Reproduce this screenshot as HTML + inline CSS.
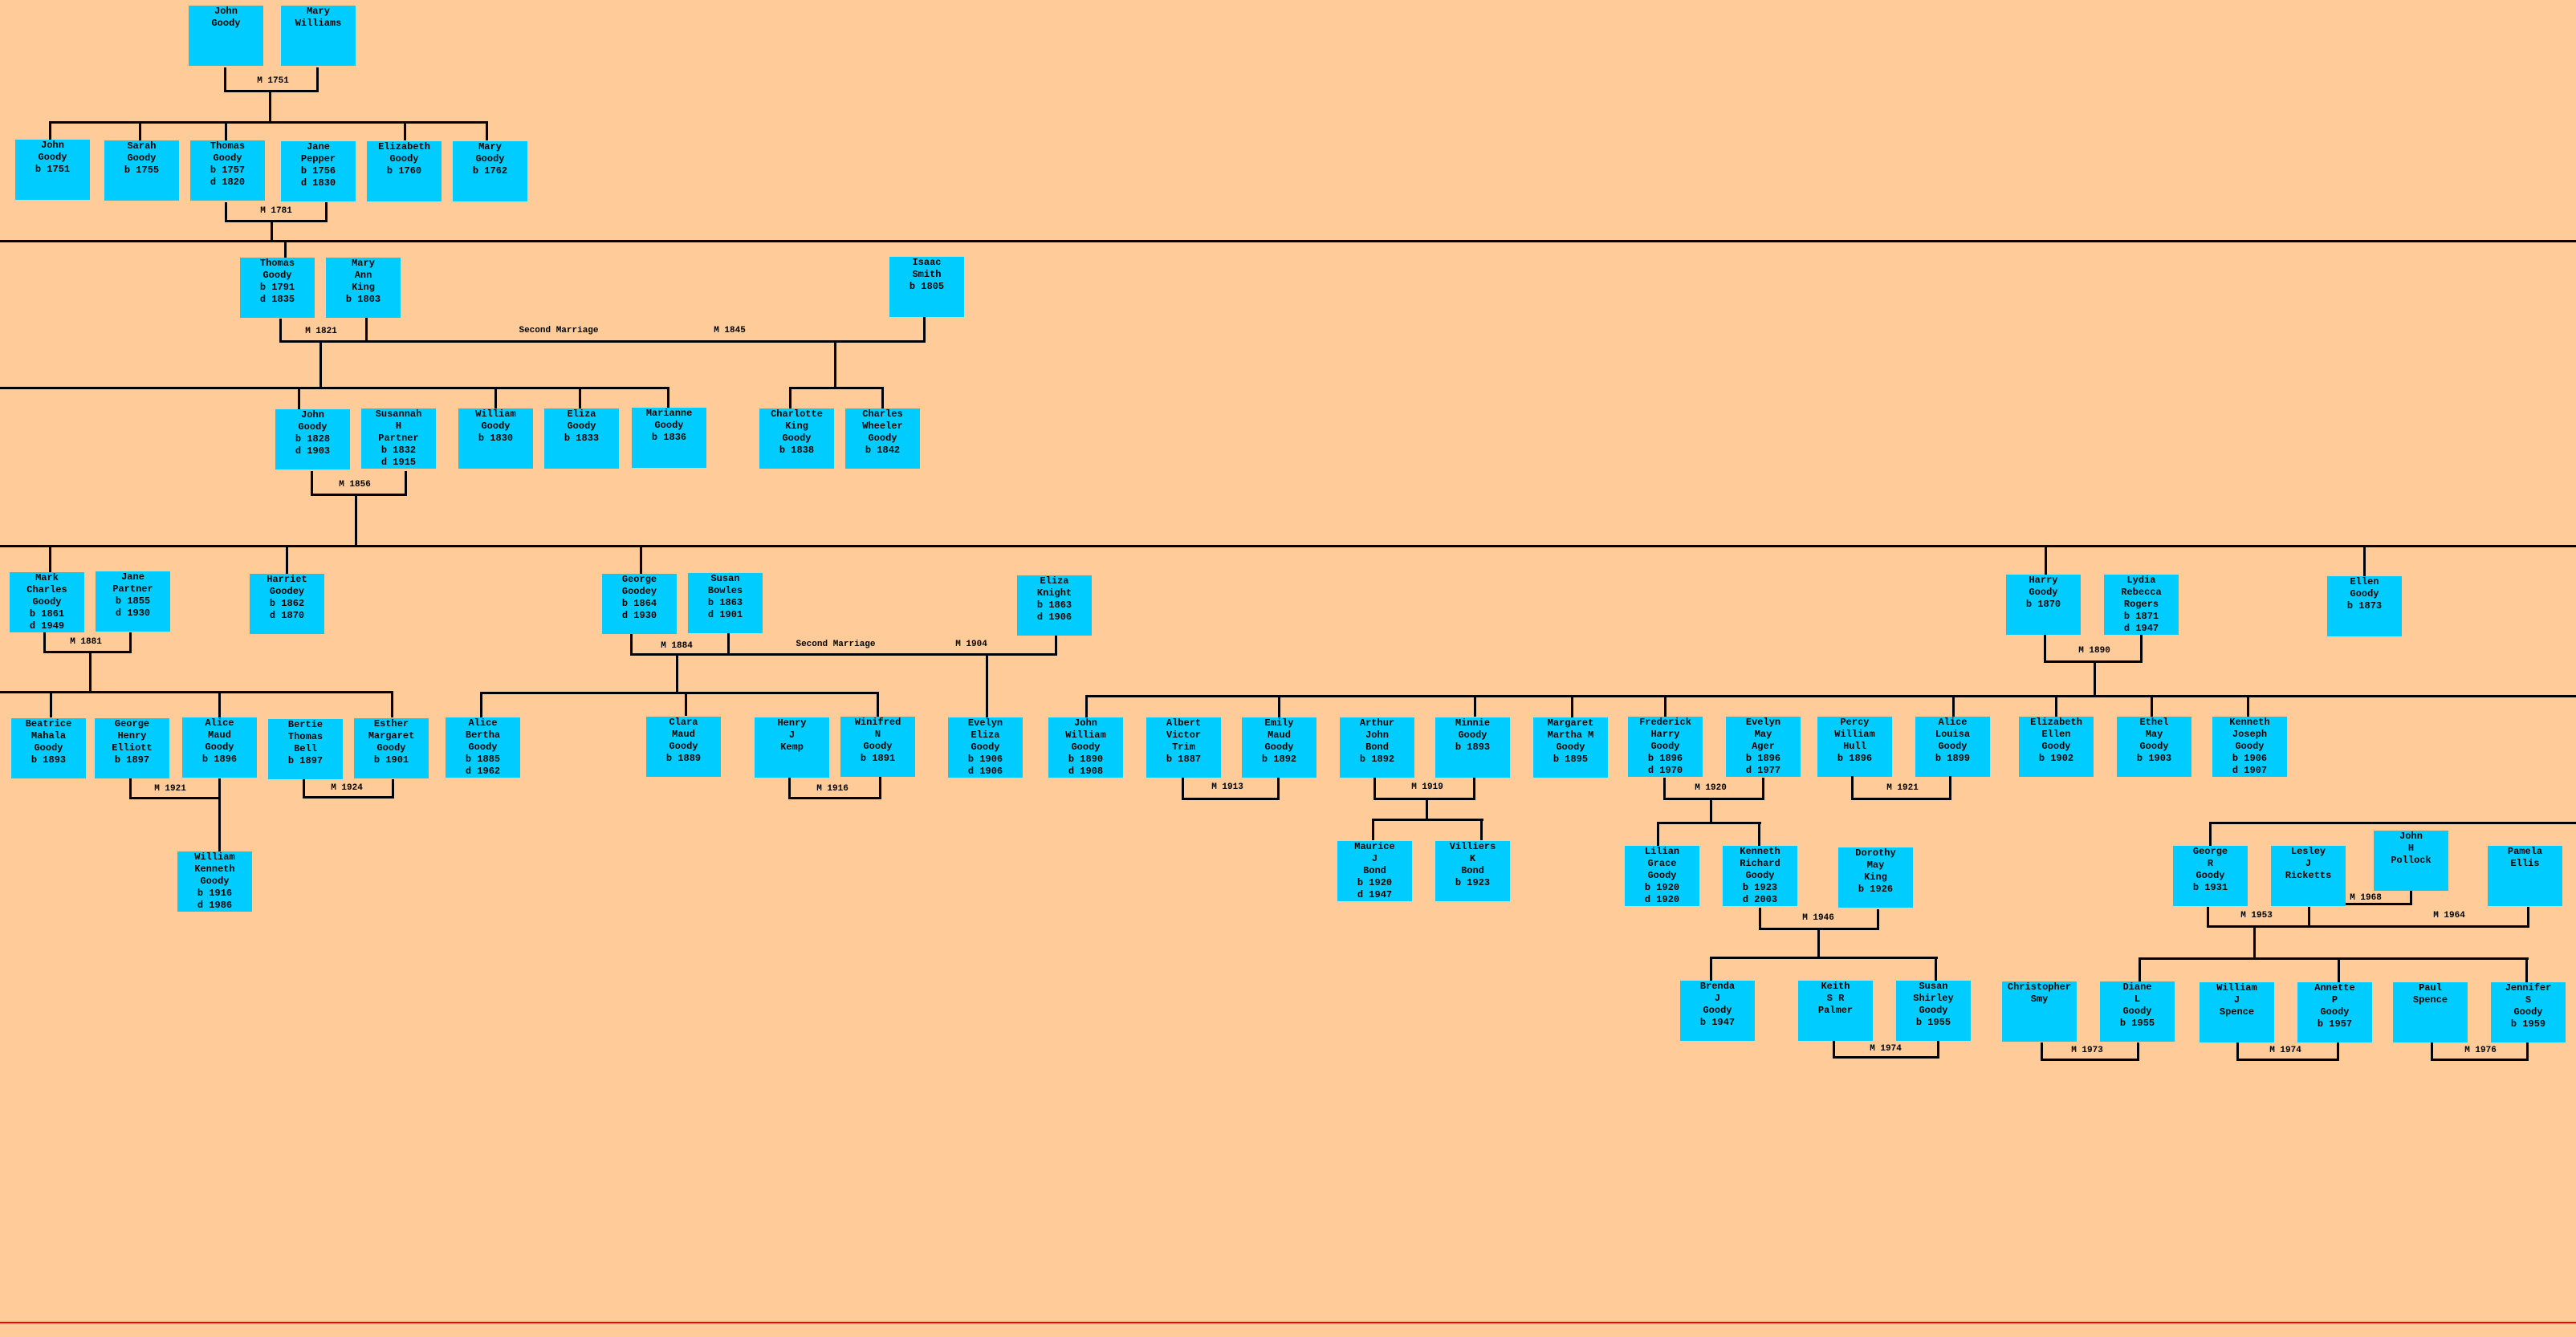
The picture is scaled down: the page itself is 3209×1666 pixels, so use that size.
<!DOCTYPE html>
<html><head><meta charset="utf-8"><style>
html,body{margin:0;padding:0}
body{width:3209px;height:1666px;background:#FFCC99;position:relative;overflow:hidden}
.b{position:absolute;width:93px;height:75px;background:#00CCFF;text-align:center;font:bold 12px/15px "Liberation Mono",monospace;color:#000}
.t{position:absolute;font:bold 11px "Liberation Mono",monospace;transform:translate(-50%,-50%);white-space:nowrap;color:#000}
.h{position:absolute;background:#000;height:3px}
.v{position:absolute;background:#000;width:3px}
</style></head><body>
<!-- Gen 1 -->
<div class="b" style="left:235px;top:7px">John<br>Goody</div>
<div class="b" style="left:350px;top:7px">Mary<br>Williams</div>
<div class="v" style="left:279px;top:84px;height:30px"></div>
<div class="v" style="left:394px;top:84px;height:30px"></div>
<div class="h" style="left:279px;top:112px;width:118px"></div>
<div class="t" style="left:340px;top:101px">M 1751</div>
<div class="v" style="left:335px;top:112px;height:41px"></div>
<div class="h" style="left:61px;top:151px;width:547px"></div>
<div class="v" style="left:61px;top:151px;height:24px"></div>
<div class="v" style="left:173px;top:151px;height:24px"></div>
<div class="v" style="left:280px;top:151px;height:24px"></div>
<div class="v" style="left:503px;top:151px;height:24px"></div>
<div class="v" style="left:605px;top:151px;height:24px"></div>
<div class="b" style="left:19px;top:174px">John<br>Goody<br>b 1751</div>
<div class="b" style="left:130px;top:175px">Sarah<br>Goody<br>b 1755</div>
<div class="b" style="left:237px;top:175px">Thomas<br>Goody<br>b 1757<br>d 1820</div>
<div class="b" style="left:350px;top:176px">Jane<br>Pepper<br>b 1756<br>d 1830</div>
<div class="b" style="left:457px;top:176px">Elizabeth<br>Goody<br>b 1760</div>
<div class="b" style="left:564px;top:176px">Mary<br>Goody<br>b 1762</div>
<div class="v" style="left:280px;top:252px;height:24px"></div>
<div class="v" style="left:405px;top:252px;height:24px"></div>
<div class="h" style="left:280px;top:274px;width:128px"></div>
<div class="t" style="left:344px;top:263px">M 1781</div>
<div class="v" style="left:337px;top:274px;height:26px"></div>
<div class="h" style="left:0;top:299px;width:3209px"></div>
<div class="v" style="left:354px;top:299px;height:22px"></div>
<!-- Gen 2 -->
<div class="b" style="left:299px;top:321px">Thomas<br>Goody<br>b 1791<br>d 1835</div>
<div class="b" style="left:406px;top:321px">Mary<br>Ann<br>King<br>b 1803</div>
<div class="b" style="left:1108px;top:320px">Isaac<br>Smith<br>b 1805</div>
<div class="v" style="left:348px;top:397px;height:29px"></div>
<div class="v" style="left:455px;top:396px;height:30px"></div>
<div class="v" style="left:1150px;top:395px;height:31px"></div>
<div class="h" style="left:348px;top:424px;width:805px"></div>
<div class="t" style="left:400px;top:413px">M 1821</div>
<div class="t" style="left:696px;top:412px">Second Marriage</div>
<div class="t" style="left:909px;top:412px">M 1845</div>
<div class="v" style="left:398px;top:424px;height:60px"></div>
<div class="v" style="left:1039px;top:424px;height:60px"></div>
<div class="h" style="left:0;top:482px;width:834px"></div>
<div class="v" style="left:371px;top:482px;height:28px"></div>
<div class="v" style="left:616px;top:482px;height:28px"></div>
<div class="v" style="left:721px;top:482px;height:28px"></div>
<div class="v" style="left:831px;top:482px;height:26px"></div>
<div class="h" style="left:983px;top:482px;width:118px"></div>
<div class="v" style="left:983px;top:482px;height:28px"></div>
<div class="v" style="left:1098px;top:482px;height:28px"></div>
<div class="b" style="left:343px;top:510px">John<br>Goody<br>b 1828<br>d 1903</div>
<div class="b" style="left:450px;top:509px">Susannah<br>H<br>Partner<br>b 1832<br>d 1915</div>
<div class="b" style="left:571px;top:509px">William<br>Goody<br>b 1830</div>
<div class="b" style="left:678px;top:509px">Eliza<br>Goody<br>b 1833</div>
<div class="b" style="left:787px;top:508px">Marianne<br>Goody<br>b 1836</div>
<div class="b" style="left:946px;top:509px">Charlotte<br>King<br>Goody<br>b 1838</div>
<div class="b" style="left:1053px;top:509px">Charles<br>Wheeler<br>Goody<br>b 1842</div>
<div class="v" style="left:387px;top:587px;height:30px"></div>
<div class="v" style="left:504px;top:587px;height:30px"></div>
<div class="h" style="left:387px;top:615px;width:120px"></div>
<div class="t" style="left:442px;top:604px">M 1856</div>
<div class="v" style="left:442px;top:615px;height:66px"></div>
<div class="h" style="left:0;top:679px;width:3209px"></div>
<div class="v" style="left:61px;top:679px;height:34px"></div>
<div class="v" style="left:356px;top:679px;height:36px"></div>
<div class="v" style="left:797px;top:679px;height:36px"></div>
<div class="v" style="left:2547px;top:679px;height:37px"></div>
<div class="v" style="left:2944px;top:679px;height:39px"></div>
<!-- Gen 4 -->
<div class="b" style="left:12px;top:713px">Mark<br>Charles<br>Goody<br>b 1861<br>d 1949</div>
<div class="b" style="left:119px;top:712px">Jane<br>Partner<br>b 1855<br>d 1930</div>
<div class="b" style="left:311px;top:715px">Harriet<br>Goodey<br>b 1862<br>d 1870</div>
<div class="b" style="left:750px;top:715px">George<br>Goodey<br>b 1864<br>d 1930</div>
<div class="b" style="left:857px;top:714px">Susan<br>Bowles<br>b 1863<br>d 1901</div>
<div class="b" style="left:1267px;top:717px">Eliza<br>Knight<br>b 1863<br>d 1906</div>
<div class="b" style="left:2499px;top:716px">Harry<br>Goody<br>b 1870</div>
<div class="b" style="left:2621px;top:716px">Lydia<br>Rebecca<br>Rogers<br>b 1871<br>d 1947</div>
<div class="b" style="left:2899px;top:718px">Ellen<br>Goody<br>b 1873</div>
<div class="v" style="left:54px;top:788px;height:25px"></div>
<div class="v" style="left:161px;top:788px;height:25px"></div>
<div class="h" style="left:54px;top:811px;width:110px"></div>
<div class="t" style="left:107px;top:800px">M 1881</div>
<div class="v" style="left:111px;top:811px;height:52px"></div>
<div class="h" style="left:0;top:861px;width:490px"></div>
<div class="v" style="left:62px;top:861px;height:33px"></div>
<div class="v" style="left:272px;top:861px;height:33px"></div>
<div class="v" style="left:487px;top:861px;height:33px"></div>
<div class="v" style="left:785px;top:790px;height:26px"></div>
<div class="v" style="left:906px;top:789px;height:27px"></div>
<div class="v" style="left:1314px;top:792px;height:24px"></div>
<div class="h" style="left:785px;top:814px;width:532px"></div>
<div class="t" style="left:843px;top:805px">M 1884</div>
<div class="t" style="left:1041px;top:803px">Second Marriage</div>
<div class="t" style="left:1210px;top:803px">M 1904</div>
<div class="v" style="left:842px;top:814px;height:50px"></div>
<div class="h" style="left:598px;top:862px;width:497px"></div>
<div class="v" style="left:598px;top:862px;height:32px"></div>
<div class="v" style="left:853px;top:862px;height:30px"></div>
<div class="v" style="left:1092px;top:862px;height:32px"></div>
<div class="v" style="left:1228px;top:814px;height:80px"></div>
<div class="v" style="left:2546px;top:791px;height:34px"></div>
<div class="v" style="left:2666px;top:791px;height:34px"></div>
<div class="h" style="left:2546px;top:823px;width:123px"></div>
<div class="t" style="left:2609px;top:811px">M 1890</div>
<div class="v" style="left:2608px;top:823px;height:45px"></div>
<div class="h" style="left:1352px;top:866px;width:1857px"></div>
<div class="v" style="left:1352px;top:866px;height:28px"></div>
<div class="v" style="left:1592px;top:866px;height:28px"></div>
<div class="v" style="left:1836px;top:866px;height:27px"></div>
<div class="v" style="left:1957px;top:866px;height:28px"></div>
<div class="v" style="left:2073px;top:866px;height:27px"></div>
<div class="v" style="left:2432px;top:866px;height:27px"></div>
<div class="v" style="left:2560px;top:866px;height:27px"></div>
<div class="v" style="left:2679px;top:866px;height:27px"></div>
<div class="v" style="left:2799px;top:866px;height:27px"></div>
<!-- Gen 5 -->
<div class="b" style="left:14px;top:895px">Beatrice<br>Mahala<br>Goody<br>b 1893</div>
<div class="b" style="left:118px;top:895px">George<br>Henry<br>Elliott<br>b 1897</div>
<div class="b" style="left:227px;top:894px">Alice<br>Maud<br>Goody<br>b 1896</div>
<div class="b" style="left:334px;top:896px">Bertie<br>Thomas<br>Bell<br>b 1897</div>
<div class="b" style="left:441px;top:895px">Esther<br>Margaret<br>Goody<br>b 1901</div>
<div class="b" style="left:555px;top:894px">Alice<br>Bertha<br>Goody<br>b 1885<br>d 1962</div>
<div class="b" style="left:805px;top:893px">Clara<br>Maud<br>Goody<br>b 1889</div>
<div class="b" style="left:940px;top:894px">Henry<br>J<br>Kemp</div>
<div class="b" style="left:1047px;top:893px">Winifred<br>N<br>Goody<br>b 1891</div>
<div class="b" style="left:1181px;top:894px">Evelyn<br>Eliza<br>Goody<br>b 1906<br>d 1906</div>
<div class="b" style="left:1306px;top:894px">John<br>William<br>Goody<br>b 1890<br>d 1908</div>
<div class="b" style="left:1428px;top:894px">Albert<br>Victor<br>Trim<br>b 1887</div>
<div class="b" style="left:1547px;top:894px">Emily<br>Maud<br>Goody<br>b 1892</div>
<div class="b" style="left:1669px;top:894px">Arthur<br>John<br>Bond<br>b 1892</div>
<div class="b" style="left:1788px;top:894px">Minnie<br>Goody<br>b 1893</div>
<div class="b" style="left:1910px;top:894px">Margaret<br>Martha M<br>Goody<br>b 1895</div>
<div class="b" style="left:2028px;top:893px">Frederick<br>Harry<br>Goody<br>b 1896<br>d 1970</div>
<div class="b" style="left:2150px;top:893px">Evelyn<br>May<br>Ager<br>b 1896<br>d 1977</div>
<div class="b" style="left:2264px;top:893px">Percy<br>William<br>Hull<br>b 1896</div>
<div class="b" style="left:2386px;top:893px">Alice<br>Louisa<br>Goody<br>b 1899</div>
<div class="b" style="left:2515px;top:893px">Elizabeth<br>Ellen<br>Goody<br>b 1902</div>
<div class="b" style="left:2637px;top:893px">Ethel<br>May<br>Goody<br>b 1903</div>
<div class="b" style="left:2756px;top:893px">Kenneth<br>Joseph<br>Goody<br>b 1906<br>d 1907</div>
<!-- gen5 marriages -->
<div class="v" style="left:161px;top:970px;height:25px"></div>
<div class="v" style="left:272px;top:970px;height:91px"></div>
<div class="h" style="left:161px;top:993px;width:114px"></div>
<div class="t" style="left:212px;top:983px">M 1921</div>
<div class="b" style="left:221px;top:1061px">William<br>Kenneth<br>Goody<br>b 1916<br>d 1986</div>
<div class="v" style="left:377px;top:971px;height:23px"></div>
<div class="v" style="left:488px;top:971px;height:23px"></div>
<div class="h" style="left:377px;top:992px;width:114px"></div>
<div class="t" style="left:432px;top:982px">M 1924</div>
<div class="v" style="left:982px;top:969px;height:26px"></div>
<div class="v" style="left:1095px;top:968px;height:27px"></div>
<div class="h" style="left:982px;top:993px;width:116px"></div>
<div class="t" style="left:1037px;top:983px">M 1916</div>
<div class="v" style="left:1472px;top:969px;height:27px"></div>
<div class="v" style="left:1591px;top:969px;height:27px"></div>
<div class="h" style="left:1472px;top:994px;width:122px"></div>
<div class="t" style="left:1529px;top:981px">M 1913</div>
<div class="v" style="left:1711px;top:969px;height:27px"></div>
<div class="v" style="left:1835px;top:969px;height:27px"></div>
<div class="h" style="left:1711px;top:994px;width:127px"></div>
<div class="t" style="left:1778px;top:981px">M 1919</div>
<div class="v" style="left:1776px;top:994px;height:28px"></div>
<div class="h" style="left:1709px;top:1020px;width:139px"></div>
<div class="v" style="left:1709px;top:1020px;height:27px"></div>
<div class="v" style="left:1844px;top:1020px;height:27px"></div>
<div class="b" style="left:1666px;top:1048px">Maurice<br>J<br>Bond<br>b 1920<br>d 1947</div>
<div class="b" style="left:1788px;top:1048px">Villiers<br>K<br>Bond<br>b 1923</div>
<div class="v" style="left:2072px;top:969px;height:27px"></div>
<div class="v" style="left:2195px;top:969px;height:27px"></div>
<div class="h" style="left:2072px;top:994px;width:126px"></div>
<div class="t" style="left:2131px;top:982px">M 1920</div>
<div class="v" style="left:2130px;top:994px;height:32px"></div>
<div class="h" style="left:2064px;top:1024px;width:130px"></div>
<div class="v" style="left:2064px;top:1024px;height:30px"></div>
<div class="v" style="left:2190px;top:1024px;height:30px"></div>
<div class="b" style="left:2024px;top:1054px">Lilian<br>Grace<br>Goody<br>b 1920<br>d 1920</div>
<div class="b" style="left:2146px;top:1054px">Kenneth<br>Richard<br>Goody<br>b 1923<br>d 2003</div>
<div class="b" style="left:2290px;top:1056px">Dorothy<br>May<br>King<br>b 1926</div>
<div class="v" style="left:2306px;top:967px;height:29px"></div>
<div class="v" style="left:2428px;top:967px;height:29px"></div>
<div class="h" style="left:2306px;top:994px;width:125px"></div>
<div class="t" style="left:2370px;top:982px">M 1921</div>
<!-- right branch -->
<div class="h" style="left:2752px;top:1024px;width:457px"></div>
<div class="v" style="left:2752px;top:1024px;height:30px"></div>
<div class="b" style="left:2707px;top:1054px">George<br>R<br>Goody<br>b 1931</div>
<div class="b" style="left:2829px;top:1054px">Lesley<br>J<br>Ricketts</div>
<div class="b" style="left:2957px;top:1035px">John<br>H<br>Pollock</div>
<div class="b" style="left:3099px;top:1054px">Pamela<br>Ellis</div>
<div class="v" style="left:3002px;top:1110px;height:18px"></div>
<div class="h" style="left:2922px;top:1125px;width:83px"></div>
<div class="t" style="left:2947px;top:1119px">M 1968</div>
<div class="v" style="left:2749px;top:1130px;height:25px"></div>
<div class="v" style="left:2875px;top:1130px;height:25px"></div>
<div class="v" style="left:3148px;top:1130px;height:25px"></div>
<div class="h" style="left:2749px;top:1153px;width:402px"></div>
<div class="t" style="left:2811px;top:1141px">M 1953</div>
<div class="t" style="left:3051px;top:1141px">M 1964</div>
<div class="v" style="left:2807px;top:1153px;height:41px"></div>
<div class="h" style="left:2664px;top:1193px;width:486px"></div>
<div class="v" style="left:2664px;top:1193px;height:31px"></div>
<div class="v" style="left:2912px;top:1193px;height:31px"></div>
<div class="v" style="left:3146px;top:1193px;height:31px"></div>
<!-- M 1946 -->
<div class="v" style="left:2191px;top:1131px;height:27px"></div>
<div class="v" style="left:2338px;top:1133px;height:25px"></div>
<div class="h" style="left:2191px;top:1156px;width:150px"></div>
<div class="t" style="left:2265px;top:1144px">M 1946</div>
<div class="v" style="left:2264px;top:1156px;height:37px"></div>
<div class="h" style="left:2130px;top:1192px;width:284px"></div>
<div class="v" style="left:2130px;top:1192px;height:30px"></div>
<div class="v" style="left:2410px;top:1192px;height:30px"></div>
<!-- Gen 7 -->
<div class="b" style="left:2093px;top:1222px">Brenda<br>J<br>Goody<br>b 1947</div>
<div class="b" style="left:2240px;top:1222px">Keith<br>S R<br>Palmer</div>
<div class="b" style="left:2362px;top:1222px">Susan<br>Shirley<br>Goody<br>b 1955</div>
<div class="b" style="left:2494px;top:1223px">Christopher<br>Smy</div>
<div class="b" style="left:2616px;top:1223px">Diane<br>L<br>Goody<br>b 1955</div>
<div class="b" style="left:2740px;top:1224px">William<br>J<br>Spence</div>
<div class="b" style="left:2862px;top:1224px">Annette<br>P<br>Goody<br>b 1957</div>
<div class="b" style="left:2981px;top:1224px">Paul<br>Spence</div>
<div class="b" style="left:3103px;top:1224px">Jennifer<br>S<br>Goody<br>b 1959</div>
<div class="v" style="left:2283px;top:1297px;height:21px"></div>
<div class="v" style="left:2413px;top:1297px;height:21px"></div>
<div class="h" style="left:2283px;top:1316px;width:133px"></div>
<div class="t" style="left:2349px;top:1307px">M 1974</div>
<div class="v" style="left:2542px;top:1299px;height:22px"></div>
<div class="v" style="left:2662px;top:1299px;height:22px"></div>
<div class="h" style="left:2542px;top:1319px;width:123px"></div>
<div class="t" style="left:2600px;top:1309px">M 1973</div>
<div class="v" style="left:2786px;top:1299px;height:22px"></div>
<div class="v" style="left:2911px;top:1299px;height:22px"></div>
<div class="h" style="left:2786px;top:1319px;width:128px"></div>
<div class="t" style="left:2847px;top:1309px">M 1974</div>
<div class="v" style="left:3028px;top:1299px;height:22px"></div>
<div class="v" style="left:3147px;top:1299px;height:22px"></div>
<div class="h" style="left:3028px;top:1319px;width:122px"></div>
<div class="t" style="left:3090px;top:1309px">M 1976</div>
<!-- bottom red line -->
<div style="position:absolute;left:0;top:1647px;width:3209px;height:2px;background:#FF0000"></div>
</body></html>
